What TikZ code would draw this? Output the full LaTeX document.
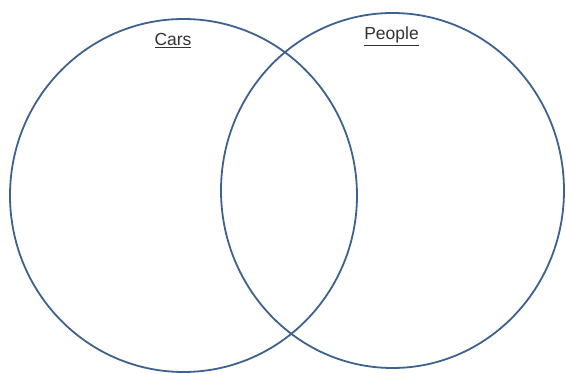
\documentclass[tikz,border=0pt]{standalone}
\usepackage{fontspec}
\setmainfont{Liberation Sans}
\definecolor{ring}{HTML}{3E6290}
\definecolor{lbl}{HTML}{333333}
\tikzset{
  setring/.style={draw=ring, line width=1.8pt},
  setlabel/.style={font=\fontsize{17.5}{20}\selectfont, text=lbl, inner sep=0pt, anchor=base}
}
\begin{document}
\begin{tikzpicture}[x=1pt,y=-1pt]
\useasboundingbox (0,0) rectangle (566,374);
\fill[white] (0,0) rectangle (566,374);
\draw[setring] (183.5,195.5) ellipse [x radius=173.5, y radius=176.5];
\draw[setring] (392.5,190.5) ellipse [x radius=171.5, y radius=177.5];
\node[setlabel] (cars) at (173,46) {\underline{Cars}};
\node[setlabel] (people) at (391.5,40) {\underline{People}};
\end{tikzpicture}
\end{document}
